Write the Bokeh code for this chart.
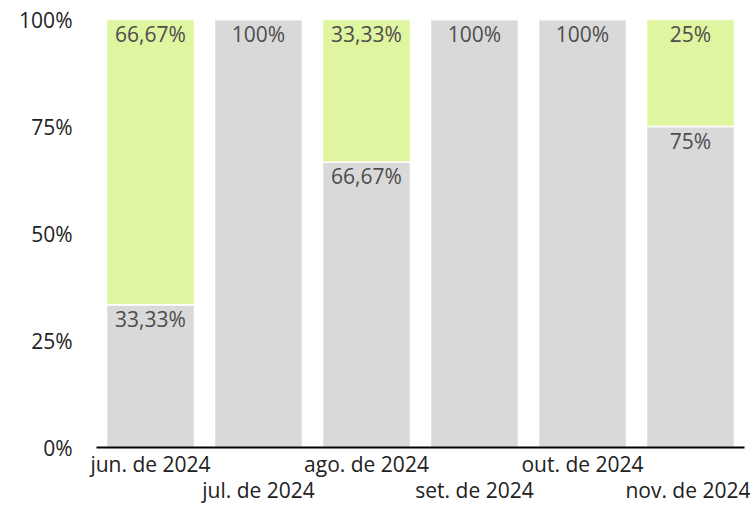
from bokeh.plotting import figure
from bokeh.models import ColumnDataSource, FixedTicker, Range1d
from bokeh.core.properties import value
from bokeh.embed import file_html
from bokeh.resources import INLINE

categories = ["jun. de 2024", "jul. de 2024", "ago. de 2024", "set. de 2024", "out. de 2024", "nov. de 2024"]
gray_values = [33.33, 100, 66.67, 100, 100, 75]
green_values = [66.67, 0, 33.33, 0, 0, 25]
y_ticks = [0, 25, 50, 75, 100]
y_tick_labels = ["0%", "25%", "50%", "75%", "100%"]

FONT = "Open Sans"
FS = "21px"
GRAY = "#d9d9d9"
GREEN = "#e0f5a0"


def fmt(v):
    if abs(v - round(v)) < 1e-9:
        return f"{int(round(v))}%"
    return f"{v:.2f}".replace(".", ",") + "%"


xs = [i + 0.5 for i in range(len(categories))]
gray_top = gray_values
green_bottom = gray_values
green_top = [g + s for g, s in zip(gray_values, green_values)]

p = figure(width=750, height=507, output_backend="svg", toolbar_location=None,
           x_range=Range1d(0, len(categories)), y_range=Range1d(0, 100),
           min_border_left=96, min_border_right=6, min_border_top=19, min_border_bottom=59)
p.outline_line_color = None
p.xgrid.visible = False
p.ygrid.visible = False

src_gray = ColumnDataSource(dict(x=xs, bottom=[0] * len(xs), top=gray_top))
src_green = ColumnDataSource(dict(x=xs, bottom=green_bottom, top=green_top))
p.vbar(x="x", bottom="bottom", top="top", width=0.815, source=src_gray,
       fill_color=GRAY, line_color="white", line_width=1.5)
p.vbar(x="x", bottom="bottom", top="top", width=0.815, source=src_green,
       fill_color=GREEN, line_color="white", line_width=1.5)

lab_x, lab_y, lab_t = [], [], []
for x, g, s in zip(xs, gray_values, green_values):
    if g > 0:
        lab_x.append(x); lab_y.append(g); lab_t.append(fmt(g))
    if s > 0:
        lab_x.append(x); lab_y.append(g + s); lab_t.append(fmt(s))
p.text(x=lab_x, y=lab_y, text=lab_t, text_align="center", text_baseline="top",
       y_offset=0, text_font=value(FONT), text_font_size=FS, text_color="#4d4d4d")

# y axis
p.yaxis.ticker = FixedTicker(ticks=y_ticks)
p.yaxis.major_label_overrides = {t: l for t, l in zip(y_ticks, y_tick_labels)}
p.yaxis.axis_line_color = None
p.yaxis.major_tick_line_color = None
p.yaxis.minor_tick_line_color = None
p.yaxis.major_label_text_font = FONT
p.yaxis.major_label_text_font_size = FS
p.yaxis.major_label_text_color = "#222222"
p.yaxis.major_label_standoff = 18

# x axis with staggered labels
p.xaxis.ticker = FixedTicker(ticks=xs)
p.xaxis.major_label_overrides = {
    x: (c if i % 2 == 0 else "\n" + c) for i, (x, c) in enumerate(zip(xs, categories))
}
p.xaxis.axis_line_color = "black"
p.xaxis.axis_line_width = 2
p.xaxis.major_tick_line_color = None
p.xaxis.minor_tick_line_color = None
p.xaxis.major_label_text_font = FONT
p.xaxis.major_label_text_font_size = FS
p.xaxis.major_label_text_color = "#222222"
p.xaxis.major_label_text_line_height = 0.95
p.xaxis.major_label_standoff = -4

open("out.html", "w").write(file_html(p, INLINE))
